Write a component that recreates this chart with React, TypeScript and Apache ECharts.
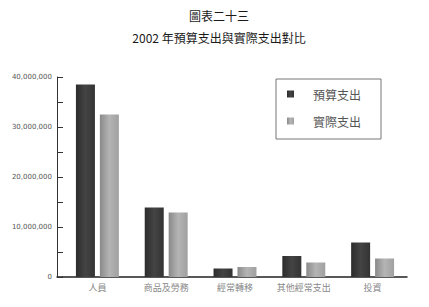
import React, { useEffect, useRef } from "react";
import * as echarts from "echarts";

const categories = ["人員", "商品及勞務", "經常轉移", "其他經常支出", "投資"];
const budget = [38500000, 13900000, 1700000, 4200000, 6900000];
const actual = [32500000, 12900000, 2000000, 2900000, 3700000];
const seriesNames = ["預算支出", "實際支出"];
const titleText = "圖表二十三";
const subTitleText = "2002 年預算支出與實際支出對比";

export default function App() {
  const ref = useRef<HTMLDivElement>(null);
  useEffect(() => {
    if (!ref.current) return;
    const chart = echarts.init(ref.current, null, { renderer: "svg" });
    const font = "'Noto Sans CJK TC', 'Noto Sans', sans-serif";
    chart.setOption({
      animation: false,
      backgroundColor: "#ffffff",
      textStyle: { fontFamily: font },
      title: [
        {
          text: titleText,
          left: 219,
          textAlign: "center",
          top: 9,
          padding: 0,
          textStyle: { fontSize: 12, fontWeight: "normal", color: "#1a1a1a", fontFamily: font },
        },
        {
          text: subTitleText,
          left: 219,
          textAlign: "center",
          top: 31,
          padding: 0,
          textStyle: { fontSize: 12, fontWeight: "normal", color: "#1a1a1a", fontFamily: font },
        },
      ],
      legend: {
        orient: "vertical",
        left: 276,
        top: 79,
        padding: [8, 20, 11, 11],
        borderColor: "#777",
        borderWidth: 1,
        itemWidth: 7,
        itemHeight: 7,
        itemGap: 13,
        icon: "rect",
        textStyle: { fontSize: 12, color: "#555", lineHeight: 14, padding: [0, 0, 0, 14], fontFamily: font },
        data: seriesNames,
      },
      grid: { left: 63, right: 22, top: 77, bottom: 30 },
      xAxis: {
        type: "category",
        data: categories,
        axisLine: { lineStyle: { color: "#222", width: 1.5 } },
        axisTick: {
          inside: true,
          length: 6,
          lineStyle: { color: "#444" },
          interval: (i: number) => i !== 0,
        },
        axisLabel: { interval: 0, fontSize: 9, color: "#888", margin: 6, fontFamily: font },
      },
      yAxis: {
        type: "value",
        min: 0,
        max: 40000000,
        interval: 5000000,
        offset: 6,
        axisLine: { show: true, lineStyle: { color: "#333", width: 1 } },
        axisTick: { show: true, inside: true, length: 6, lineStyle: { color: "#333" } },
        splitLine: { show: false },
        axisLabel: {
          fontSize: 7,
          color: "#555",
          margin: 5,
          fontFamily: "'DejaVu Sans', sans-serif",
          formatter: (v: number) => (v % 10000000 === 0 ? v.toLocaleString("en-US") : ""),
        },
      },
      graphic: [
        {
          type: "line",
          shape: { x1: 56.5, y1: 277, x2: 63, y2: 277 },
          style: { stroke: "#222", lineWidth: 1.5 },
        },
      ],
      series: [
        {
          name: seriesNames[0],
          type: "bar",
          data: budget,
          barWidth: 19,
          barGap: "26%",
          itemStyle: {
            color: new echarts.graphic.LinearGradient(0, 0, 1, 0, [
              { offset: 0, color: "#2c2c2c" },
              { offset: 0.5, color: "#444" },
              { offset: 1, color: "#333" },
            ]),
          },
        },
        {
          name: seriesNames[1],
          type: "bar",
          data: actual,
          barWidth: 19,
          itemStyle: {
            color: new echarts.graphic.LinearGradient(0, 0, 1, 0, [
              { offset: 0, color: "#8a8a8a" },
              { offset: 0.5, color: "#b4b4b4" },
              { offset: 1, color: "#a0a0a0" },
            ]),
          },
        },
      ],
    });
    return () => chart.dispose();
  }, []);
  return (
    <div
      ref={ref}
      style={{ position: "absolute", left: 0, top: 0, width: 429, height: 307 }}
    />
  );
}
